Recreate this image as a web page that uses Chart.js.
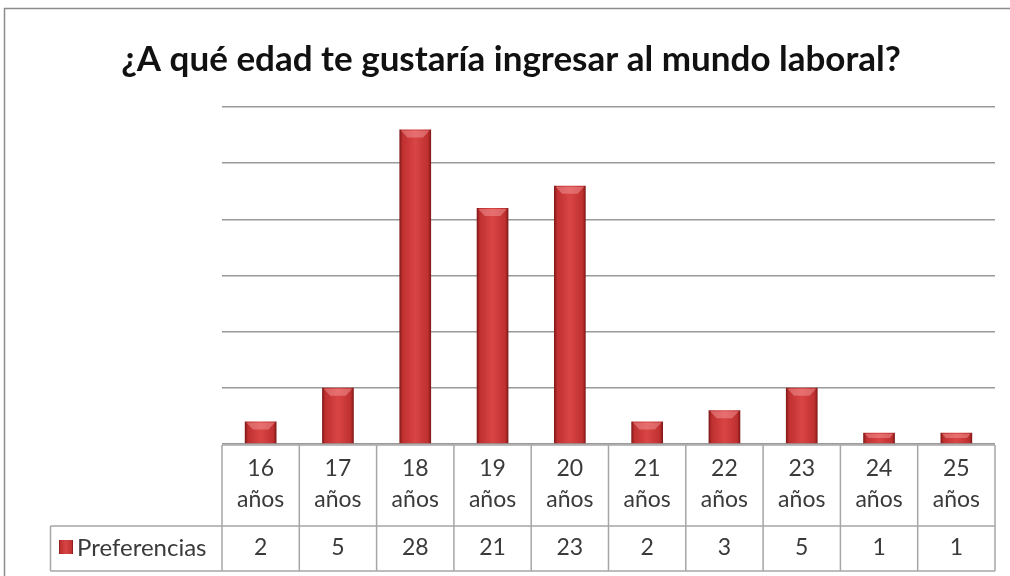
<!DOCTYPE html>
<html>
<head>
<meta charset="utf-8">
<script src="https://cdn.jsdelivr.net/npm/chart.js@4"></script>
<style>
  html, body { margin: 0; padding: 0; background: #fff; }
  #wrap { width: 1010px; height: 576px; }
</style>
</head>
<body>
<div id="wrap"><canvas id="chart" width="1010" height="576"></canvas></div>
<script>
// data
const ages = ['16', '17', '18', '19', '20', '21', '22', '23', '24', '25'];
const unit = 'años';
const preferencias = [2, 5, 28, 21, 23, 2, 3, 5, 1, 1];
const seriesName = 'Preferencias';
const titleText = '¿A qué edad te gustaría ingresar al mundo laboral?';

const labels = ages.map(a => [a, unit]);
const textFont = '"Lato", "Open Sans", sans-serif';
const lineGrey = '#a6a6a6';
const barPct = 0.41;

// red bar shading, light in the middle and dark at the sides
function barGradient(c, l, r) {
    const g = c.createLinearGradient(l, 0, r, 0);
    g.addColorStop(0, '#7d1616');
    g.addColorStop(0.1, '#bf3030');
    g.addColorStop(0.5, '#d94545');
    g.addColorStop(0.9, '#bf3030');
    g.addColorStop(1, '#7d1616');
    return g;
}

// frame around the whole chart (only left + top visible in the crop) and the title
const framePlugin = {
    id: 'frame',
    beforeDraw(chart) {
        const c = chart.ctx;
        c.save();
        c.fillStyle = '#fff';
        c.fillRect(0, 0, chart.width, chart.height);
        c.strokeStyle = '#8c8c8c';
        c.lineWidth = 1.5;
        c.beginPath();
        c.moveTo(4.5, chart.height);
        c.lineTo(4.5, 8.5);
        c.lineTo(chart.width, 8.5);
        c.stroke();

        c.fillStyle = '#111';
        c.font = 'bold 35px ' + textFont;
        c.textAlign = 'center';
        c.textBaseline = 'middle';
        c.fillText(titleText, 511, 60);
        c.restore();
    }
};

// top bevel on each bar
const bevelPlugin = {
    id: 'bevel',
    afterDatasetsDraw(chart) {
        const c = chart.ctx;
        c.save();
        chart.getDatasetMeta(0).data.forEach(bar => {
            const l = bar.x - bar.width / 2, r = bar.x + bar.width / 2;
            const h = Math.min(8, (bar.base - bar.y) / 2);
            c.fillStyle = 'rgba(255,175,175,0.4)';
            c.beginPath();
            c.moveTo(l + 1.5, bar.y + 1);
            c.lineTo(r - 1.5, bar.y + 1);
            c.lineTo(r - h, bar.y + h);
            c.lineTo(l + h, bar.y + h);
            c.closePath();
            c.fill();
        });
        c.restore();
    }
};

// data table under the plot
const tablePlugin = {
    id: 'table',
    afterDraw(chart) {
        const c = chart.ctx;
        const x = chart.scales.x;
        const area = chart.chartArea;
        const colW = (area.right - area.left) / ages.length;
        const top = area.bottom + 1, mid = top + 81, bot = mid + 45;
        const left = 50.5;
        c.save();
        c.strokeStyle = lineGrey;
        c.lineWidth = 1.5;
        c.beginPath();
        c.moveTo(area.left, top); c.lineTo(area.right, top);
        c.moveTo(left, mid); c.lineTo(area.right, mid);
        c.moveTo(left, bot); c.lineTo(area.right, bot);
        for (let i = 0; i <= ages.length; i++) {
            const xx = area.left + i * colW;
            c.moveTo(xx, top); c.lineTo(xx, bot);
        }
        c.moveTo(left, mid); c.lineTo(left, bot);
        c.stroke();

        c.fillStyle = '#3a3a3a';
        c.font = '23px ' + textFont;
        c.textAlign = 'center';
        c.textBaseline = 'middle';
        labels.forEach((lab, i) => {
            const cx = x.getPixelForValue(i);
            c.fillText(lab[0], cx, top + 24);
            c.fillText(lab[1], cx, top + 55);
            c.fillText(String(preferencias[i]), cx, mid + 22);
        });
        // legend key + series name
        c.fillStyle = barGradient(c, 59, 73);
        c.fillRect(59, mid + 14, 14, 14);
        c.fillStyle = '#3a3a3a';
        c.textAlign = 'left';
        c.font = '24px ' + textFont;
        c.fillText(seriesName, 77, mid + 22);
        c.restore();
    }
};

new Chart(document.getElementById('chart'), {
    type: 'bar',
    data: {
        labels: labels,
        datasets: [{
            label: seriesName,
            data: preferencias,
            backgroundColor: (ctx) => {
                const chart = ctx.chart;
                const xs = chart.scales.x;
                if (ctx.type !== 'data' || !xs || !chart.chartArea) return '#c83a3a';
                const cx = xs.getPixelForValue(ctx.dataIndex);
                const w = (chart.chartArea.right - chart.chartArea.left) / ages.length * barPct;
                return barGradient(chart.ctx, cx - w / 2, cx + w / 2);
            },
            borderColor: '#7a1515',
            borderWidth: 0,
            barPercentage: barPct,
            categoryPercentage: 1
        }]
    },
    options: {
        responsive: false,
        animation: false,
        layout: {
            padding: { left: 222, right: 15, top: 107, bottom: 132 }
        },
        plugins: {
            legend: { display: false },
            tooltip: { enabled: false },
            title: { display: false }
        },
        scales: {
            x: {
                display: false,
                grid: { display: false }
            },
            y: {
                min: 0,
                max: 30,
                ticks: { display: false, stepSize: 5 },
                border: { display: false },
                grid: { color: '#999999', lineWidth: 1.5, drawTicks: false }
            }
        }
    },
    plugins: [framePlugin, bevelPlugin, tablePlugin]
});
</script>
</body>
</html>
